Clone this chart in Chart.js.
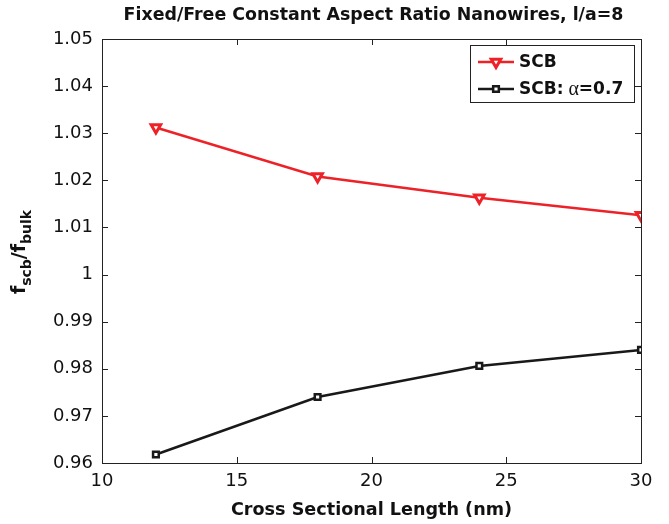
<!DOCTYPE html>
<html>
<head>
<meta charset="utf-8">
<script src="https://cdn.jsdelivr.net/npm/chart.js@4.4.1/dist/chart.umd.min.js"></script>
<style>
  html, body { margin: 0; padding: 0; background: #fff; }
  #wrap { width: 669px; height: 524px; }
</style>
</head>
<body>
<div id="wrap"><canvas id="myChart"></canvas></div>
<script>
// data
const lengths = [12, 18, 24, 30];
const scbValues = [1.0312, 1.0208, 1.0163, 1.0126];
const alphaValues = [0.9618, 0.9740, 0.9806, 0.9840];
const xTicks = [10, 15, 20, 25, 30];
const yTicks = [0.96, 0.97, 0.98, 0.99, 1.00, 1.01, 1.02, 1.03, 1.04, 1.05];

const FONT = '"DejaVu Sans", "Liberation Sans", Arial, sans-serif';
const RED = 'rgb(236,34,40)';
const BLACK = 'rgb(25,25,25)';

// box, inward ticks, title, y label and legend (MATLAB look)
const matlabLook = {
  id: 'matlabLook',
  afterDraw(chart) {
    const c = chart.ctx;
    const a = chart.chartArea;
    const xs = chart.scales.x, ys = chart.scales.y;
    c.save();
    c.strokeStyle = '#222';
    c.lineWidth = 1;
    c.strokeRect(a.left + 0.5, a.top + 0.5, a.right - a.left, a.bottom - a.top);
    c.beginPath();
    xTicks.forEach(function (t) {
      const px = Math.round(xs.getPixelForValue(t)) + 0.5;
      c.moveTo(px, a.bottom); c.lineTo(px, a.bottom - 6);
      c.moveTo(px, a.top); c.lineTo(px, a.top + 6);
    });
    yTicks.forEach(function (t) {
      const py = Math.round(ys.getPixelForValue(t)) + 0.5;
      c.moveTo(a.left, py); c.lineTo(a.left + 6, py);
      c.moveTo(a.right, py); c.lineTo(a.right - 6, py);
    });
    c.stroke();

    // title
    c.fillStyle = '#111';
    c.font = 'bold 17.4px ' + FONT;
    c.textAlign = 'center';
    c.textBaseline = 'middle';
    c.fillText('Fixed/Free Constant Aspect Ratio Nanowires, l/a=8', (a.left + a.right) / 2 + 2, 15);

    // y label with subscripts
    const parts = [
      ['f', 'bold 19px ' + FONT, 0],
      ['scb', 'bold 14px ' + FONT, 6],
      ['/f', 'bold 19px ' + FONT, 0],
      ['bulk', 'bold 14px ' + FONT, 6]
    ];
    let total = 0;
    parts.forEach(function (p) { c.font = p[1]; total += c.measureText(p[0]).width; });
    c.translate(25, 252);
    c.rotate(-Math.PI / 2);
    c.textAlign = 'left';
    c.textBaseline = 'alphabetic';
    let x = -total / 2;
    parts.forEach(function (p) {
      c.font = p[1];
      c.fillText(p[0], x, p[2]);
      x += c.measureText(p[0]).width;
    });
    c.restore();

    // legend
    c.save();
    const lx = 470.5, ly = 45.5, lw = 164, lh = 57;
    c.fillStyle = '#fff';
    c.fillRect(lx, ly, lw, lh);
    c.strokeStyle = '#222';
    c.lineWidth = 1;
    c.strokeRect(lx, ly, lw, lh);
    const rows = [
      { ds: chart.data.datasets[0], y: 62 },
      { ds: chart.data.datasets[1], y: 89 }
    ];
    rows.forEach(function (r) {
      c.strokeStyle = r.ds.borderColor;
      c.lineWidth = 2.5;
      c.beginPath();
      c.moveTo(478, r.y); c.lineTo(514, r.y);
      c.stroke();
      c.fillStyle = r.ds.pointBackgroundColor;
      c.lineWidth = r.ds.pointBorderWidth;
      Chart.helpers.drawPoint(c, {
        pointStyle: r.ds.pointStyle,
        rotation: r.ds.pointRotation || 0,
        radius: r.ds.pointRadius,
        borderWidth: r.ds.pointBorderWidth
      }, 496, r.y);
    });
    c.fillStyle = '#111';
    c.textBaseline = 'middle';
    c.textAlign = 'left';
    c.font = 'bold 17px ' + FONT;
    c.fillText('SCB', 519, 63);
    let tx = 519;
    c.fillText('SCB: ', tx, 90);
    tx += c.measureText('SCB: ').width - 1;
    c.font = '20px "Liberation Serif", "DejaVu Serif", serif';
    c.fillText('\u03b1', tx, 90);
    tx += c.measureText('\u03b1').width;
    c.font = 'bold 17px ' + FONT;
    c.fillText('=0.7', tx, 90);
    c.restore();
  }
};

new Chart(document.getElementById('myChart'), {
  type: 'line',
  data: {
    labels: lengths,
    datasets: [
      {
        label: 'SCB',
        data: lengths.map(function (x, i) { return { x: x, y: scbValues[i] }; }),
        borderColor: RED,
        borderWidth: 2.5,
        pointStyle: 'triangle',
        pointRotation: 180,
        pointRadius: 5.5,
        pointBorderWidth: 3,
        pointBackgroundColor: '#fff',
        pointBorderColor: RED,
        tension: 0
      },
      {
        label: 'SCB: \u03b1=0.7',
        data: lengths.map(function (x, i) { return { x: x, y: alphaValues[i] }; }),
        borderColor: BLACK,
        borderWidth: 2.5,
        pointStyle: 'rect',
        pointRadius: 4,
        pointBorderWidth: 2.5,
        pointBackgroundColor: '#fff',
        pointBorderColor: BLACK,
        tension: 0
      }
    ]
  },
  options: {
    responsive: true,
    maintainAspectRatio: false,
    animation: false,
    layout: { padding: { top: 39, right: 28, left: 0, bottom: 0 } },
    plugins: {
      legend: { display: false },
      tooltip: { enabled: false }
    },
    scales: {
      x: {
        type: 'linear',
        min: 10, max: 30,
        afterBuildTicks: function (s) { s.ticks = xTicks.map(function (v) { return { value: v }; }); },
        afterFit: function (s) { s.height = 61; },
        grid: { display: false, drawTicks: false },
        border: { display: false },
        ticks: { color: '#111', font: { family: FONT, size: 18 }, padding: 8, maxRotation: 0 },
        title: {
          display: true,
          text: 'Cross Sectional Length (nm)',
          color: '#111',
          font: { family: FONT, size: 17.6, weight: 'bold' },
          padding: { top: 0, bottom: 3 }
        }
      },
      y: {
        type: 'linear',
        min: 0.96, max: 1.05,
        afterBuildTicks: function (s) { s.ticks = yTicks.map(function (v) { return { value: v }; }); },
        afterFit: function (s) { s.width = 102; },
        grid: { display: false, drawTicks: false },
        border: { display: false },
        ticks: {
          color: '#111',
          font: { family: FONT, size: 18 },
          padding: 9,
          callback: function (v) { return String(Number(v.toFixed(2))); }
        }
      }
    }
  },
  plugins: [matlabLook]
});
</script>
</body>
</html>
